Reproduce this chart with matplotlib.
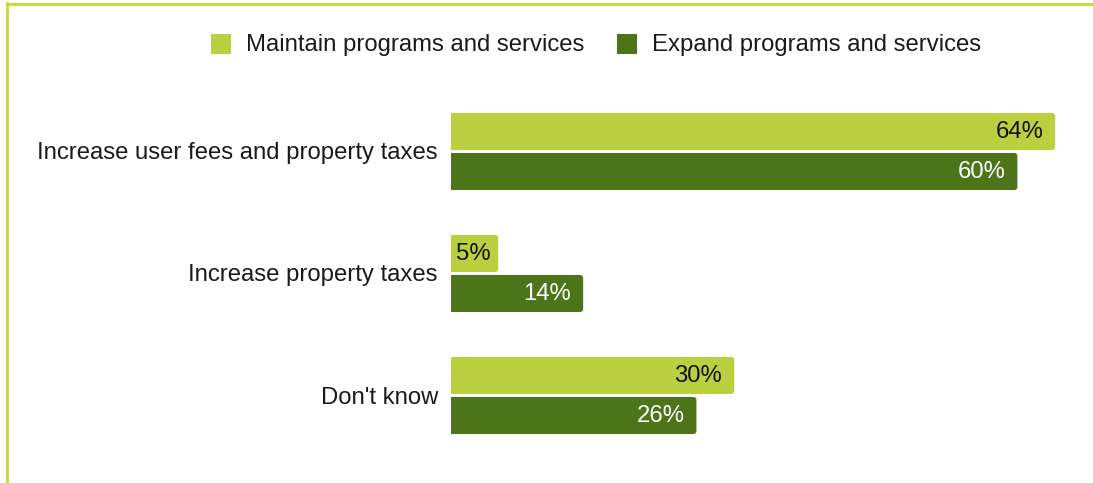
import matplotlib
matplotlib.use("Agg")
import matplotlib.pyplot as plt
from matplotlib.patches import FancyBboxPatch, Rectangle
from matplotlib.lines import Line2D

plt.rcParams['font.family'] = ['Liberation Sans', 'DejaVu Sans']

categories = ['Increase user fees and property taxes', 'Increase property taxes', "Don't know"]
maintain = [64, 5, 30]
expand = [60, 14, 26]
series_names = ['Maintain programs and services', 'Expand programs and services']

light = '#bbd03f'
dark = '#4c7519'
border = '#c4dc30'

W, H = 1093, 483
fig = plt.figure(figsize=(W / 100, H / 100), dpi=100)

# axes placed in pixel terms: bars start at x=451, 9.44 px per percent
x0 = 451
px_per_pct = 9.44
ax = fig.add_axes([x0 / W, 0, (W - x0) / W, 1])
ax.set_xlim(0, (W - x0) / px_per_pct)
y_first, y_step = 151.5, 122.0
ax.set_ylim((H - y_first) / y_step, (0 - y_first) / y_step)
ax.axis('off')

bar_h = 37 / y_step
off = 20 / y_step
aspect = (1 / y_step) / (1 / px_per_pct)
r = 3 / px_per_pct
fs = 17.2

def draw_bar(y, v, color, txtcolor):
    p = FancyBboxPatch((-1, y - bar_h / 2), v + 1, bar_h,
                       boxstyle=f"round,pad=0,rounding_size={r}",
                       mutation_aspect=aspect, fc=color, ec='none')
    ax.add_patch(p)
    if v * px_per_pct < 60:
        # short bar: label starts near the bar origin
        ax.text(5 / px_per_pct, y + 1 / y_step, f"{v}%", ha='left', va='center',
                fontsize=fs, color=txtcolor)
    else:
        ax.text(v - 12 / px_per_pct, y + 1 / y_step, f"{v}%", ha='right', va='center',
                fontsize=fs, color=txtcolor)

for i, cat in enumerate(categories):
    draw_bar(i - off, maintain[i], light, '#111111')
    draw_bar(i + off, expand[i], dark, 'white')
    fig.text(438 / W, 1 - (y_first + 2 + i * y_step) / H, cat, ha='right', va='center',
             fontsize=fs, color='#1a1a1a')

# legend
for (sx, tx), name, c in zip([(211, 246), (617, 652)], series_names, [light, dark]):
    fig.patches.append(Rectangle((sx / W, 1 - 54 / H), 20 / W, 20 / H,
                                 transform=fig.transFigure, fc=c, ec='none'))
    fig.text(tx / W, 1 - 45 / H, name, ha='left', va='center', fontsize=fs, color='#1a1a1a')

# outer frame lines (top and left)
fig.add_artist(Line2D([6.5 / W, 1], [1 - 3.5 / H, 1 - 3.5 / H], transform=fig.transFigure,
                      color=border, lw=2))
fig.add_artist(Line2D([6.5 / W, 6.5 / W], [0, 1 - 2.5 / H], transform=fig.transFigure,
                      color=border, lw=2))

fig.savefig('out.png', dpi=100)
